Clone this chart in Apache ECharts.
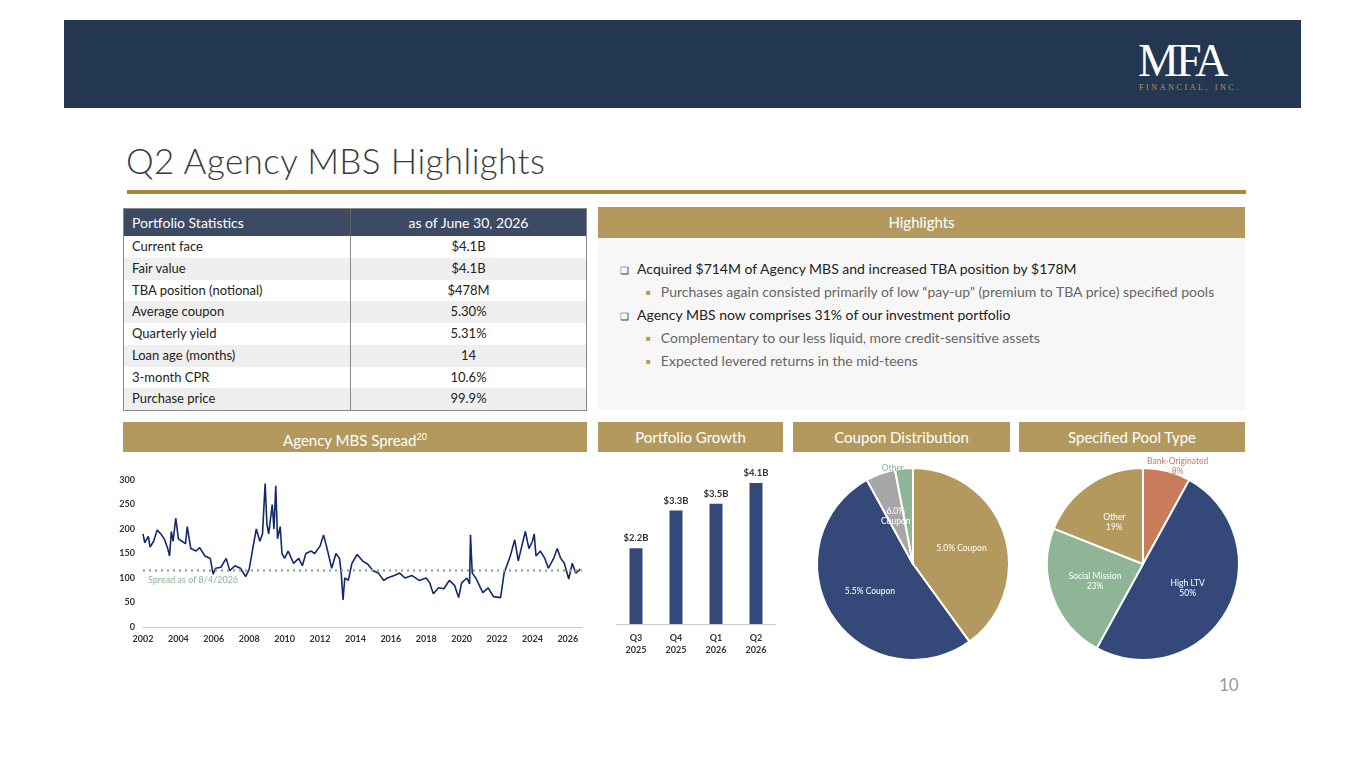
<!DOCTYPE html>
<html><head><meta charset="utf-8">
<script src="https://cdn.jsdelivr.net/npm/echarts@6/dist/echarts.min.js"></script>
<style>
body{margin:0;width:1365px;height:768px;background:#fff;font-family:Lato,"Open Sans",sans-serif;position:relative;overflow:hidden}
.abs{position:absolute}
*{box-sizing:border-box}
#hdr{left:64px;top:20px;width:1237px;height:88px;background:#233750}
#title{left:126px;top:139px;font-size:35px;color:#3b3b3b;font-weight:300;letter-spacing:0.4px}
#rule{left:127px;top:190px;width:1119px;height:4px;background:#a8893a}
#tbl{left:123px;top:208px;width:464px;border:1px solid #888;font-size:13px;color:#222}
.row{display:flex;height:21.75px;line-height:21.75px}
.row div:first-child{width:227px;padding-left:8px;border-right:1px solid #888}
.row div:last-child{flex:1;text-align:center}
.row.hd{background:#3d4a63;color:#fff;height:27px;line-height:27px;font-size:14px}
.row.hd div:first-child{border-right:1px solid #666}
.row.alt{background:#efefef}
.sec{background:#b3995d;color:#fff;font-size:15px;text-align:center;line-height:30px;height:30px}
#hl{left:598px;top:238px;width:647px;height:172px;background:#f7f7f7;font-size:14px}
.b1{position:absolute;left:22px;color:#222}
.b2{position:absolute;left:48px;color:#666}
.sq{color:#3d4a63;font-size:10px;margin-right:8px}
.gs{color:#b3995d;font-size:8px;margin-right:10px;vertical-align:2px}
</style></head><body>
<div class="abs" id="hdr"></div>
<div class="abs" style="left:1138px;top:38px;font-family:'Liberation Serif',serif;color:#fff;font-size:46px;letter-spacing:-3px;line-height:46px">MFA</div>
<div class="abs" style="left:1139px;top:83px;font-family:'Liberation Serif',serif;color:#b3995d;font-size:8px;letter-spacing:2.6px">FINANCIAL, INC.</div>
<div class="abs" id="title">Q2 Agency MBS Highlights</div>
<div class="abs" id="rule"></div>
<div class="abs" id="tbl"></div>
<div class="abs sec" style="left:598px;top:207px;width:647px;line-height:31px;height:31px">Highlights</div>
<div class="abs" id="hl">
<div class="b1" style="top:22px"><span class="sq">❑</span>Acquired $714M of Agency MBS and increased TBA position by $178M</div>
<div class="b2" style="top:45px"><span class="gs">■</span>Purchases again consisted primarily of low “pay-up” (premium to TBA price) specified pools</div>
<div class="b1" style="top:68px"><span class="sq">❑</span>Agency MBS now comprises 31% of our investment portfolio</div>
<div class="b2" style="top:91px"><span class="gs">■</span>Complementary to our less liquid, more credit-sensitive assets</div>
<div class="b2" style="top:114px"><span class="gs">■</span>Expected levered returns in the mid-teens</div>
</div>
<div class="abs sec" style="left:123px;top:422px;width:464px">Agency MBS Spread<sup style="font-size:9px">20</sup></div>
<div class="abs sec" style="left:598px;top:422px;width:185px">Portfolio Growth</div>
<div class="abs sec" style="left:793px;top:422px;width:217px">Coupon Distribution</div>
<div class="abs sec" style="left:1019px;top:422px;width:226px">Specified Pool Type</div>
<div class="abs" style="left:1219px;top:674px;font-size:17px;color:#999">10</div>
<div class="abs" id="c1" style="left:100px;top:460px;width:500px;height:200px"></div>
<div class="abs" id="c2" style="left:598px;top:455px;width:190px;height:215px"></div>
<div class="abs" id="c3" style="left:800px;top:452px;width:225px;height:220px"></div>
<div class="abs" id="c4" style="left:1030px;top:452px;width:225px;height:220px"></div>
<script>
const statLabels=["Current face","Fair value","TBA position (notional)","Average coupon","Quarterly yield","Loan age (months)","3-month CPR","Purchase price"];
const statValues=["$4.1B","$4.1B","$478M","5.30%","5.31%","14","10.6%","99.9%"];
const spreadX=[2002.0,2002.1,2002.3,2002.4,2002.6,2002.8,2003.0,2003.2,2003.4,2003.5,2003.6,2003.7,2003.85,2004.0,2004.2,2004.4,2004.5,2004.7,2005.0,2005.2,2005.5,2005.8,2005.96,2006.1,2006.4,2006.7,2006.9,2007.2,2007.5,2007.8,2008.0,2008.2,2008.4,2008.6,2008.75,2008.9,2009.0,2009.1,2009.3,2009.4,2009.5,2009.6,2009.75,2009.85,2010.0,2010.2,2010.5,2010.8,2011.0,2011.2,2011.5,2011.7,2012.0,2012.2,2012.4,2012.66,2012.9,2013.1,2013.2,2013.3,2013.4,2013.6,2013.8,2014.1,2014.4,2014.7,2015.0,2015.3,2015.6,2015.8,2016.2,2016.5,2016.8,2017.2,2017.6,2018.0,2018.2,2018.4,2018.7,2019.0,2019.3,2019.6,2019.83,2020.0,2020.3,2020.45,2020.5,2020.6,2020.8,2021.0,2021.2,2021.5,2021.8,2022.2,2022.4,2022.75,2023.0,2023.2,2023.4,2023.6,2023.8,2024.0,2024.1,2024.2,2024.45,2024.7,2024.9,2025.2,2025.4,2025.6,2025.8,2026.05,2026.25,2026.45,2026.7];
const spreadY=[190,172,185,163,175,198,190,180,160,145,195,175,222,180,175,170,205,160,155,162,145,140,108,120,122,140,115,125,120,103,118,160,200,175,190,293,210,190,250,200,288,180,205,150,140,155,130,140,125,150,155,150,165,188,160,120,150,140,110,55,100,95,130,148,135,128,115,110,95,100,105,110,100,105,95,100,90,68,80,78,95,85,60,90,100,88,188,110,100,85,70,80,62,60,110,145,178,135,165,195,160,175,190,145,155,140,120,140,160,140,130,98,130,110,118];
const spreadNow=115;
const growthCats=["Q3\n2025","Q4\n2025","Q1\n2026","Q2\n2026"];
const growthVals=[2.2,3.3,3.5,4.1];
const couponNames=["5.0% Coupon","5.5% Coupon","6.0%\nCoupon","Other"];
const couponVals=[40,52,5,3];
const poolNames=["Bank-Originated","High LTV","Social Mission","Other"];
const poolVals=[8,50,23,19];

let h='<div class="row hd"><div>Portfolio Statistics</div><div>as of June 30, 2026</div></div>';
statLabels.forEach((l,i)=>{h+=`<div class="row${i%2?' alt':''}"><div>${l}</div><div>${statValues[i]}</div></div>`});
document.getElementById('tbl').innerHTML=h;

const F='Lato';
echarts.init(document.getElementById('c1')).setOption({animation:false,
 grid:{left:43,right:18,top:20,bottom:33},
 xAxis:{type:'value',min:2002,max:2026.8,interval:2,axisLine:{lineStyle:{color:'#ccc'}},axisTick:{show:false},splitLine:{show:false},
  axisLabel:{color:'#333',fontSize:9,fontWeight:'bold',fontFamily:F,formatter:v=>v%2===0?v:'',showMaxLabel:false}},
 yAxis:{type:'value',min:0,max:300,interval:50,axisLine:{show:false},axisTick:{show:false},splitLine:{show:false},axisLabel:{color:'#333',fontSize:9,fontWeight:'bold',fontFamily:F}},
 series:[{type:'line',data:spreadX.map((x,i)=>[x,spreadY[i]]),showSymbol:false,lineStyle:{color:'#13296b',width:1.6},
  markLine:{symbol:'none',silent:true,data:[{yAxis:spreadNow}],lineStyle:{color:'#8db596',type:[2,4],width:2.5},
   label:{position:'insideStartBottom',formatter:'Spread as of 8/4/2026',color:'#8db596',fontSize:9,fontFamily:F}}}]});

echarts.init(document.getElementById('c2')).setOption({animation:false,
 grid:{left:18,right:12,top:28,bottom:46},
 xAxis:{type:'category',data:growthCats,axisLine:{lineStyle:{color:'#ccc'}},axisTick:{show:false},axisLabel:{color:'#333',fontSize:9,fontWeight:'bold',fontFamily:F,lineHeight:12}},
 yAxis:{type:'value',min:0,max:4.1,show:false},
 series:[{type:'bar',data:growthVals,barWidth:13,itemStyle:{color:'#34497a'},label:{show:true,position:'top',color:'#333',fontSize:9.5,fontWeight:'bold',fontFamily:F,formatter:p=>'$'+p.value+'B'}}]});

function pie(id,names,vals,colors,labelCfg,fmt){
 const el=document.getElementById(id);el.style.top='432px';el.style.height='240px';
 echarts.init(el).setOption({animation:false,color:colors,
  series:[{type:'pie',center:[113,132],radius:[0,96],startAngle:90,clockwise:true,avoidLabelOverlap:false,
   itemStyle:{borderColor:'#fff',borderWidth:2},
   data:names.map((n,i)=>({name:n,value:vals[i],label:labelCfg[i],labelLine:{show:false,length:0,length2:0}})),
   label:{position:'inside',color:'#fff',fontSize:8.5,fontFamily:F,lineHeight:10,overflow:'none',formatter:fmt},labelLine:{show:false}}]});
}
pie('c3',couponNames,couponVals,['#b3995d','#34497a','#a6a6a6','#8db596'],[{},{},{color:'#fff'},{position:'outside',color:'#8db596',distanceToLabelLine:0}],'{b}');
pie('c4',poolNames,poolVals,['#c97b5c','#34497a','#8db596','#b3995d'],[{position:'inside',color:'#c97b5c',offset:[22,-48]},{},{},{}],'{b}\n{c}%');
</script>
</body></html>
